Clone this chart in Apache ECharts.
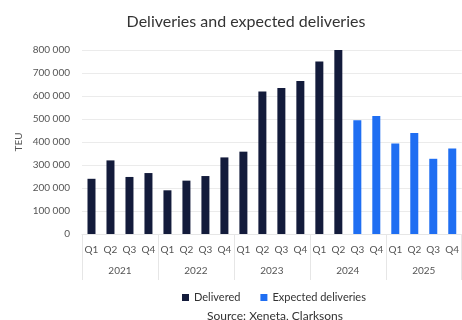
<!DOCTYPE html>
<html><head><meta charset="utf-8">
<script src="https://cdn.jsdelivr.net/npm/echarts@6/dist/echarts.min.js"></script>
<style>html,body{margin:0;padding:0;background:#fff}#c{width:462px;height:320px}</style>
</head><body><div id="c"></div>
<script>
const quarters = ['Q1','Q2','Q3','Q4','Q1','Q2','Q3','Q4','Q1','Q2','Q3','Q4','Q1','Q2','Q3','Q4','Q1','Q2','Q3','Q4'];
const years = ['2021','2022','2023','2024','2025'];
const delivered = [240000,320000,248000,265000,190000,232000,252000,333000,358000,620000,635000,665000,750000,800000,null,null,null,null,null,null];
const expected = [null,null,null,null,null,null,null,null,null,null,null,null,null,null,495000,513000,393000,439000,327000,372000];
const FONT = 'Lato, "Open Sans", sans-serif';
const chart = echarts.init(document.getElementById('c'));
chart.setOption({
  animation:false,
  textStyle:{fontFamily:FONT},
  title:[
    {text:'Deliveries and expected deliveries',left:241,top:9,textAlign:'center',textStyle:{fontFamily:FONT,fontSize:16,fontWeight:'normal',color:'#333'}},
    {text:'Source: Xeneta, Clarksons',left:270,top:305,textAlign:'center',textStyle:{fontFamily:FONT,fontSize:12,fontWeight:'normal',color:'#333'}}
  ],
  legend:{top:287,left:177,itemWidth:7,itemHeight:7,itemGap:20,icon:'rect',
    textStyle:{fontFamily:FONT,fontSize:11,color:'#333'},data:['Delivered','Expected deliveries']},
  grid:{left:82,right:-6,top:50,bottom:86},
  xAxis:[
    {type:'category',data:quarters,axisTick:{show:false},axisLine:{lineStyle:{color:'#e6e6e6'}},
     axisLabel:{color:'#555',fontSize:10,margin:11,interval:0}},
    {type:'category',data:years,position:'bottom',boundaryGap:true,
     axisLine:{show:false},axisTick:{show:true,length:46,lineStyle:{color:'#e6e6e6'}},
     axisLabel:{color:'#555',fontSize:10,margin:32}}
  ],
  yAxis:{type:'value',min:0,max:800000,interval:100000,name:'TEU',nameLocation:'middle',nameGap:58,nameMoveOverlap:false,
    nameTextStyle:{color:'#555',fontSize:10},
    axisLabel:{color:'#555',fontSize:10,margin:12,formatter:v=>String(v).replace(/\B(?=(\d{3})+(?!\d))/g,' ')},
    splitLine:{lineStyle:{color:'#ebebeb'}}},
  series:[
    {name:'Delivered',type:'bar',stack:'a',barWidth:8,data:delivered,itemStyle:{color:'#131b3b'}},
    {name:'Expected deliveries',type:'bar',stack:'a',barWidth:8,data:expected,itemStyle:{color:'#1f6ef2'}}
  ]
});
</script></body></html>
